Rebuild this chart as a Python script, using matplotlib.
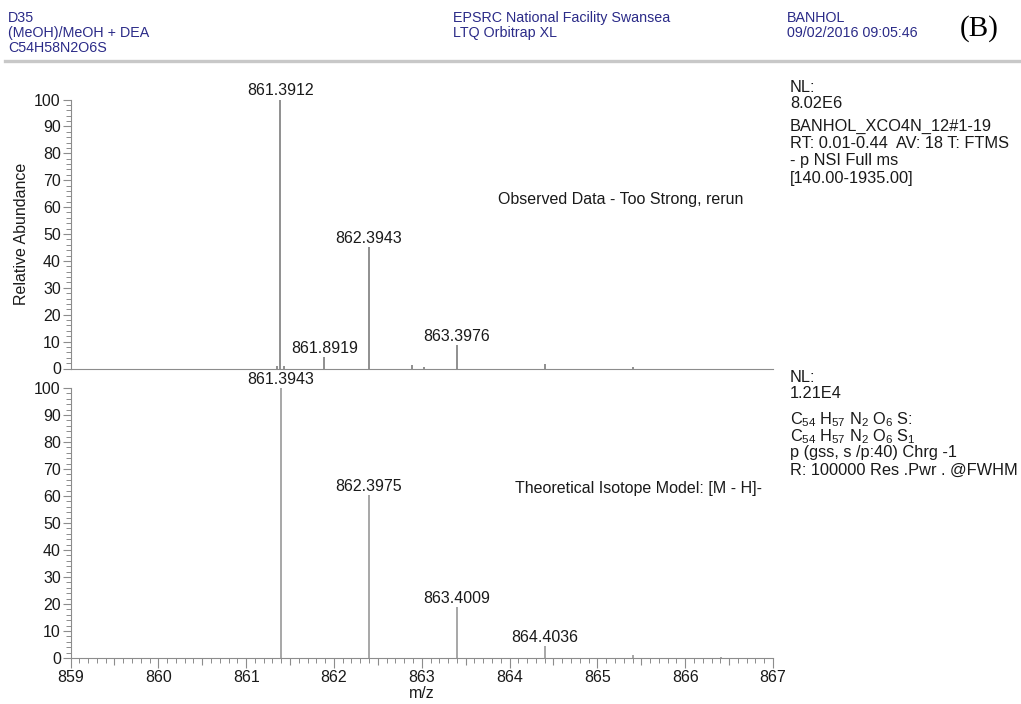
import matplotlib
matplotlib.use("Agg")
import matplotlib.pyplot as plt
from matplotlib.ticker import MultipleLocator, FixedLocator, NullFormatter
from matplotlib.lines import Line2D

plt.rcParams["font.family"] = ["Liberation Sans", "DejaVu Sans"]
plt.rcParams["mathtext.default"] = "regular"

# ---- data -------------------------------------------------------------
# observed spectrum (centroid m/z, relative abundance %)
obs_mz = [861.352, 861.3912, 861.430, 861.8919, 862.3943, 862.893, 863.030,
          863.3976, 864.400, 865.400]
obs_int = [0.8, 100.0, 0.9, 4.1, 45.0, 1.3, 0.4, 8.8, 1.5, 0.4]
obs_labelled = [861.3912, 861.8919, 862.3943, 863.3976]

# theoretical isotope pattern for [M - H]-
theo_mz = [861.3943, 862.3975, 863.4009, 864.4036, 865.4060, 866.4085]
theo_int = [100.0, 60.2, 18.8, 4.4, 1.0, 0.25]
theo_labelled = [861.3943, 862.3975, 863.4009, 864.4036]

x_range = (859, 867)
y_ticks = [0, 10, 20, 30, 40, 50, 60, 70, 80, 90, 100]
x_ticks = [859, 860, 861, 862, 863, 864, 865, 866, 867]

header_left = ["D35", "(MeOH)/MeOH + DEA", "C54H58N2O6S"]
header_mid = ["EPSRC National Facility Swansea", "LTQ Orbitrap XL"]
header_right = ["BANHOL", "09/02/2016 09:05:46"]

info_top = ["NL:", "8.02E6", "BANHOL_XCO4N_12#1-19",
            "RT: 0.01-0.44  AV: 18 T: FTMS", "- p NSI Full ms",
            "[140.00-1935.00]"]
info_bottom = ["NL:", "1.21E4",
               r"C$_{54}$ H$_{57}$ N$_{2}$ O$_{6}$ S:",
               r"C$_{54}$ H$_{57}$ N$_{2}$ O$_{6}$ S$_{1}$",
               "p (gss, s /p:40) Chrg -1",
               "R: 100000 Res .Pwr . @FWHM"]

# ---- figure -----------------------------------------------------------
W, H = 1021, 704
fig = plt.figure(figsize=(W / 100, H / 100), dpi=100)
fig.patch.set_facecolor("white")

AXIS_C = "#8c8c8c"
PEAK_C = "#8f8f8f"
TEXT_C = "#1a1a1a"
HEAD_C = "#2b2b88"
FS = 11.5


def rect(x0, y_top, x1, y_bot):
    return [x0 / W, 1 - y_bot / H, (x1 - x0) / W, (y_bot - y_top) / H]


def ftext(x, y, s, **kw):
    fig.text(x / W, 1 - y / H, s, va="center", **kw)


def style_axes(ax, show_x):
    ax.set_xlim(*x_range)
    ax.set_ylim(0, 100)
    for side in ("top", "right"):
        ax.spines[side].set_visible(False)
    for side in ("left", "bottom"):
        ax.spines[side].set_color(AXIS_C)
        ax.spines[side].set_linewidth(0.8)
    ax.yaxis.set_major_locator(FixedLocator(y_ticks))
    ax.yaxis.set_minor_locator(MultipleLocator(2))
    ax.tick_params(axis="y", which="major", direction="out", length=6,
                   width=0.8, color=AXIS_C, labelsize=FS,
                   labelcolor=TEXT_C, pad=1)
    ax.tick_params(axis="y", which="minor", direction="out", length=3.5,
                   width=0.7, color=AXIS_C)
    if show_x:
        ax.xaxis.set_major_locator(FixedLocator(x_ticks))
        ax.xaxis.set_minor_locator(MultipleLocator(0.1))
        ax.tick_params(axis="x", which="major", direction="out", length=7,
                       width=0.8, color=AXIS_C, labelsize=FS,
                       labelcolor=TEXT_C, pad=2)
        ax.tick_params(axis="x", which="minor", direction="out", length=3.5,
                       width=0.7, color=AXIS_C)
        half = ax.secondary_xaxis("bottom")
        half.xaxis.set_major_locator(FixedLocator([v + 0.5 for v in x_ticks[:-1]]))
        half.xaxis.set_major_formatter(NullFormatter())
        half.tick_params(axis="x", direction="out", length=5, width=0.8,
                         color=AXIS_C)
        half.spines["bottom"].set_visible(False)
    else:
        ax.tick_params(axis="x", which="both", bottom=False,
                       labelbottom=False)
    ax.patch.set_alpha(0)


def draw_spectrum(ax, mz, inten, labelled, lw):
    ax.vlines(mz, 0, inten, color=PEAK_C, lw=lw)
    for m, v in zip(mz, inten):
        if m in labelled:
            ax.annotate(f"{m:.4f}", (m, v), xytext=(0, 3),
                        textcoords="offset points", ha="center",
                        va="baseline", fontsize=FS, color=TEXT_C,
                        annotation_clip=False)


ax1 = fig.add_axes(rect(70.5, 99.5, 773, 368.5))
ax2 = fig.add_axes(rect(70.5, 388, 773, 658))
style_axes(ax1, show_x=False)
style_axes(ax2, show_x=True)

draw_spectrum(ax1, obs_mz, obs_int, obs_labelled, lw=1.4)
draw_spectrum(ax2, theo_mz, theo_int, theo_labelled, lw=1.1)

ax1.text(865.27, 63, "Observed Data - Too Strong, rerun", ha="center",
         va="center", fontsize=FS, color=TEXT_C)
ax2.text(865.47, 62.6, "Theoretical Isotope Model: [M - H]-", ha="center",
         va="center", fontsize=FS, color=TEXT_C)

ax1.set_ylabel("Relative Abundance", fontsize=FS, color=TEXT_C, labelpad=4)
ax2.set_xlabel("m/z", fontsize=FS, color=TEXT_C, labelpad=0)

# ---- header -----------------------------------------------------------
for s, y in zip(header_left, (18, 33, 48)):
    ftext(8, y, s, ha="left", fontsize=10.3, color=HEAD_C)
for s, y in zip(header_mid, (18, 33)):
    ftext(453, y, s, ha="left", fontsize=10.3, color=HEAD_C)
for s, y in zip(header_right, (18, 33)):
    ftext(787, y, s, ha="left", fontsize=10.3, color=HEAD_C)
ftext(979, 29, "(B)", ha="center", fontsize=21, color="black",
      family=["Liberation Serif", "DejaVu Serif"])
fig.add_artist(Line2D([5 / W, 1.0], [1 - 61 / H] * 2, color="#c8c8c8",
                      lw=2.4, transform=fig.transFigure))

# ---- side information -------------------------------------------------
for s, y in zip(info_top, (87, 103, 126, 143, 160, 178)):
    ftext(790, y, s, ha="left", fontsize=11.8, color=TEXT_C)
for s, y in zip(info_bottom, (377, 394, 420, 437, 453, 470)):
    ftext(790, y, s, ha="left", fontsize=11.8, color=TEXT_C)

fig.savefig("out.png", dpi=100, facecolor="white")
